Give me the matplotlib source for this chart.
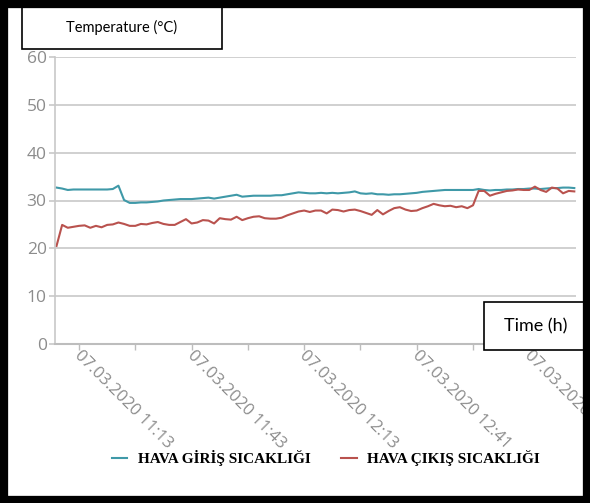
"""
air inlet / outlet temperature, 07.03.2020
"""
import numpy as np
import matplotlib
matplotlib.use("Agg")
import matplotlib.pyplot as plt
from matplotlib.patches import Rectangle

# inlet air temperature (HAVA GİRİŞ SICAKLIĞI), one value per sample
t_in = [32.7, 32.5, 32.2, 32.3, 32.3, 32.3, 32.3, 32.3, 32.3, 32.3,
        32.4, 33.1, 30.1, 29.5, 29.5, 29.6, 29.6, 29.7, 29.8, 30.0,
        30.1, 30.2, 30.3, 30.3, 30.3, 30.4, 30.5, 30.6, 30.4, 30.6,
        30.8, 31.0, 31.2, 30.8, 30.9, 31.0, 31.0, 31.0, 31.0, 31.1,
        31.1, 31.3, 31.5, 31.7, 31.6, 31.5, 31.5, 31.6, 31.5, 31.6,
        31.5, 31.6, 31.7, 31.9, 31.5, 31.4, 31.5, 31.3, 31.3, 31.2,
        31.3, 31.3, 31.4, 31.5, 31.6, 31.8, 31.9, 32.0, 32.1, 32.2,
        32.2, 32.2, 32.2, 32.2, 32.2, 32.4, 32.2, 32.1, 32.2, 32.2,
        32.3, 32.3, 32.4, 32.4, 32.5, 32.5, 32.4, 32.5, 32.6, 32.6,
        32.7, 32.7, 32.6]

# outlet air temperature (HAVA ÇIKIŞ SICAKLIĞI)
t_out = [20.5, 24.9, 24.3, 24.5, 24.7, 24.8, 24.3, 24.7, 24.4, 24.9,
         25.0, 25.4, 25.1, 24.7, 24.7, 25.1, 25.0, 25.3, 25.5, 25.1,
         24.9, 24.9, 25.5, 26.1, 25.2, 25.4, 25.9, 25.8, 25.2, 26.3,
         26.1, 26.0, 26.6, 25.9, 26.3, 26.6, 26.7, 26.3, 26.2, 26.2,
         26.4, 26.9, 27.3, 27.7, 27.9, 27.6, 27.9, 27.9, 27.3, 28.1,
         28.0, 27.7, 28.0, 28.1, 27.8, 27.4, 27.0, 28.0, 27.1, 27.8,
         28.4, 28.6, 28.1, 27.8, 27.9, 28.4, 28.8, 29.3, 29.0, 28.8,
         28.9, 28.6, 28.8, 28.4, 29.0, 32.0, 32.0, 31.0, 31.4, 31.7,
         32.0, 32.1, 32.3, 32.2, 32.2, 32.9, 32.2, 31.8, 32.7, 32.5,
         31.5, 32.0, 31.9]

# category axis: a tick every 10 samples, a label every 20
tick_idx = [4, 14, 24, 34, 44, 54, 64, 74, 84]
label_idx = [4, 24, 44, 64, 84]
time_labels = ["07.03.2020 11:13", "07.03.2020 11:43", "07.03.2020 12:13",
               "07.03.2020 12:41", "07.03.2020 13:11"]

series_names = ["HAVA GİRİŞ SICAKLIĞI", "HAVA ÇIKIŞ SICAKLIĞI"]
colors = ["#3f99a8", "#b9524e"]

W, H = 590, 503
fig = plt.figure(figsize=(W / 100, H / 100), dpi=100)
ax = fig.add_axes([55 / W, 1 - 344 / H, (576 - 55) / W, 287 / H])

x = np.arange(len(t_in))
l1, = ax.plot(x, t_in, color=colors[0], lw=1.5)
l2, = ax.plot(x, t_out, color=colors[1], lw=1.5)

ax.set_ylim(0, 60)
ax.set_xlim(-0.27, 92.3)
ax.set_yticks(range(0, 61, 10))
ax.grid(axis="y", color="#c8c8c8", lw=1.2)
ax.set_axisbelow(True)
for s in ["top", "right"]:
    ax.spines[s].set_visible(False)
ax.spines["left"].set_color("#c8c8c8")
ax.spines["bottom"].set_color("#bdbdbd")
ax.spines["left"].set_linewidth(1.2)
ax.spines["bottom"].set_linewidth(1.5)

ax.tick_params(axis="y", length=4, width=1.2, color="#c8c8c8",
               labelcolor="#8c8c8c", labelsize=12.5, pad=2)
for lab in ax.get_yticklabels():
    lab.set_family("Open Sans")

ax.set_xticks(tick_idx)
ax.set_xticklabels([""] * len(tick_idx))
ax.tick_params(axis="x", length=4, width=1, color="#bdbdbd")
# the last label runs off the right edge, as in the original
for i, lab in zip(label_idx, time_labels):
    ax.text(i - 0.4, -2.0, lab, rotation=-45, rotation_mode="anchor",
            ha="left", va="center", fontsize=12, color="#8c8c8c",
            family="Open Sans", clip_on=False)

# axis title boxes
def box(x0, y0, x1, y1, txt, size):
    fig.patches.append(Rectangle((x0 / W, 1 - y1 / H), (x1 - x0) / W, (y1 - y0) / H,
                                 transform=fig.transFigure, fill=True,
                                 facecolor="white", edgecolor="black", lw=1.2))
    fig.text((x0 + x1) / 2 / W, 1 - (y0 + y1) / 2 / H, txt, ha="center",
             va="center", fontsize=size, family="Lato")

box(22, 6, 222, 49, "Temperature (°C)", 10.5)
box(484, 302, 588, 350, "Time (h)", 13)

fig.legend([l1, l2], series_names, loc="center", bbox_to_anchor=(326 / W, 1 - 458 / H),
           ncol=2, frameon=False, handlelength=1.0, columnspacing=2.0,
           handletextpad=0.7, prop={"family": "Liberation Serif", "weight": "bold",
                                    "size": 11})

# black frame round the whole picture
fig.patches.append(Rectangle((0, 0), 1, 1, transform=fig.transFigure, fill=False,
                             edgecolor="black", lw=11, zorder=10))

fig.savefig("out.png", dpi=100)
